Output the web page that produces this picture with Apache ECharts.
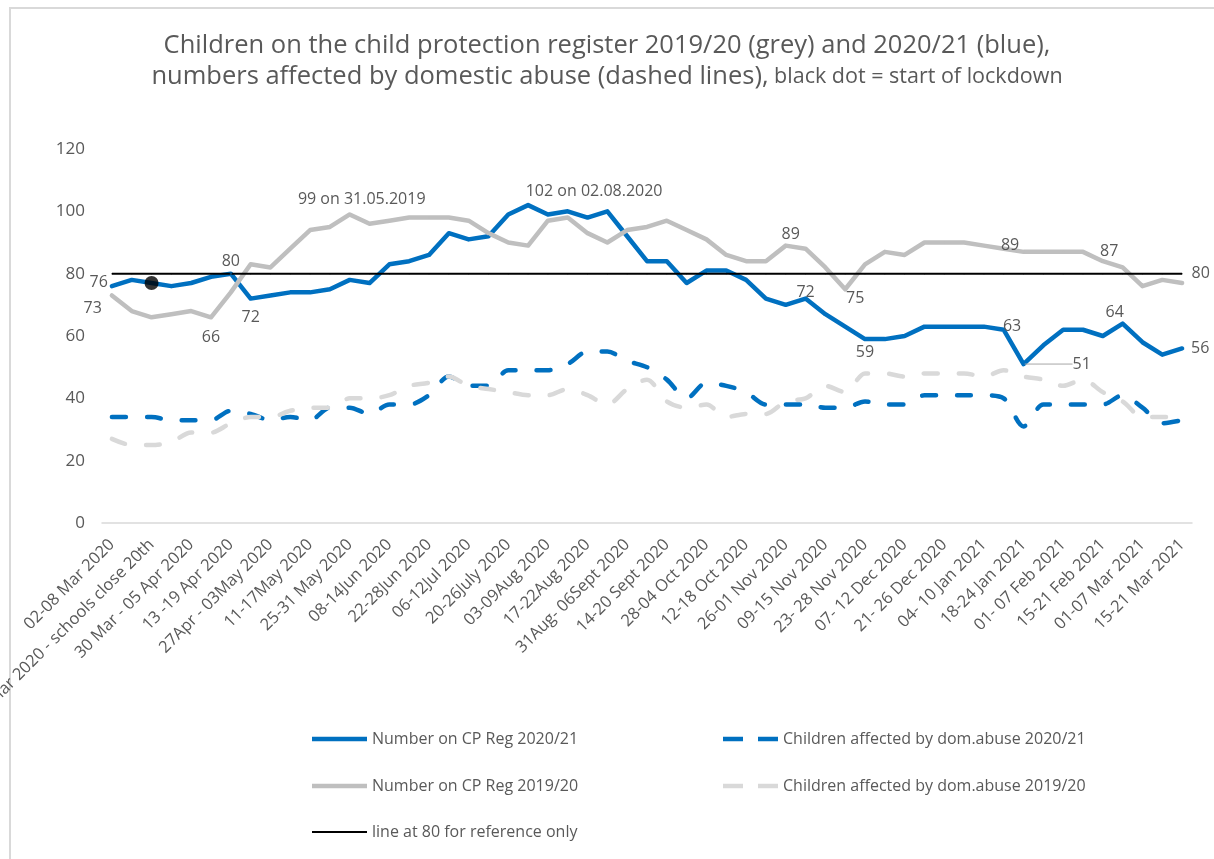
<!DOCTYPE html>
<html>
<head>
<meta charset="utf-8">
<script src="https://cdn.jsdelivr.net/npm/echarts@6/dist/echarts.min.js"></script>
<style>
html,body{margin:0;padding:0;background:#fff;}
#chart{width:1214px;height:859px;}
</style>
</head>
<body>
<div id="chart"></div>
<script>
const categories = [
  '02-08 Mar 2020','09-15 Mar 2020','16-22 Mar 2020 - schools close 20th','23-29 Mar 2020',
  '30 Mar - 05 Apr 2020','06-12 Apr 2020','13 -19 Apr 2020','20-26 Apr 2020',
  '27Apr - 03May 2020','04-10May 2020','11-17May 2020','18-24 May 2020',
  '25-31 May 2020','01-07Jun 2020','08-14Jun 2020','15-21Jun 2020',
  '22-28Jun 2020','29Jun-05Jul 2020','06-12Jul 2020','13-19Jul 2020',
  '20-26July 2020','27Jul-02Aug 2020','03-09Aug 2020','10-16Aug 2020',
  '17-22Aug 2020','24-30Aug 2020','31Aug- 06Sept 2020','07-13 Sept 2020',
  '14-20 Sept 2020','21-27 Sept 2020','28-04 Oct 2020','05-11 Oct 2020',
  '12-18 Oct 2020','19-25 Oct 2020','26-01 Nov 2020','02-08 Nov 2020',
  '09-15 Nov 2020','16-22 Nov 2020','23- 28 Nov 2020','30-06 Dec 2020',
  '07- 12 Dec 2020','14-20 Dec 2020','21- 26 Dec 2020','28-03 Jan 2021',
  '04- 10 Jan 2021','11-17 Jan 2021','18-24 Jan 2021','25-31 Jan 2021',
  '01- 07 Feb 2021','08-14 Feb 2021','15-21 Feb 2021','22-28 Feb 2021',
  '01-07 Mar 2021','08-14 Mar 2021','15-21 Mar 2021'
];

const cpReg2021 = [76,78,77,76,77,79,80,72,73,74,74,75,78,77,83,84,86,93,91,92,99,102,99,100,98,100,92,84,84,77,81,81,78,72,70,72,67,63,59,59,60,63,63,63,63,62,51,57,62,62,60,64,58,54,56];
const domAbuse2021 = [34,34,34,33,33,33,36,35,33,34,33,37,37,35,38,38,41,47,44,44,49,49,49,51,55,55,52,50,46,40,45,44,42,38,38,38,37,37,39,38,38,41,41,41,41,40,31,38,38,38,38,41,37,32,33];
const cpReg1920 = [73,68,66,67,68,66,74,83,82,88,94,95,99,96,97,98,98,98,97,93,90,89,97,98,93,90,94,95,97,94,91,86,84,84,89,88,82,75,83,87,86,90,90,90,89,88,87,87,87,87,84,82,76,78,77];
const domAbuse1920 = [27,25,25,26,29,29,32,34,34,36,37,37,40,40,41,44,45,47,44,43,42,41,41,43,41,38,43,46,39,37,38,34,35,35,39,40,44,42,48,48,47,48,48,48,47,49,47,46,44,46,42,39,34,34,34];
const referenceLine = [80,80,80,80,80,80,80,80,80,80,80,80,80,80,80,80,80,80,80,80,80,80,80,80,80,80,80,80,80,80,80,80,80,80,80,80,80,80,80,80,80,80,80,80,80,80,80,80,80,80,80,80,80,80,80];

const seriesNames = [
  'Number on CP Reg 2020/21',
  'Children affected by dom.abuse 2020/21',
  'Number on CP Reg 2019/20',
  'Children affected by dom.abuse 2019/20',
  'line at 80 for reference only'
];
const titleLine1 = 'Children on the child protection register 2019/20 (grey) and 2020/21 (blue),';
const titleLine2a = 'numbers affected by domestic abuse (dashed lines),';
const titleLine2b = ' black dot = start of lockdown';
const lockdownIndex = 2;
const blueAnnotations = {21: '102 on 02.08.2020'};
const greyAnnotations = {12: '99 on 31.05.2019'};
const blueLabelled = [0, 6, 7, 21, 35, 38, 44, 46, 51, 54];
const greyLabelled = [0, 5, 12, 34, 37, 44, 49];
const leaderIndex = 46;

const FONT = 'Open Sans';
const TXT = '#595959';

const blueLabelStyle = {
  0: {position: 'left', distance: 3},
  6: {position: 'top', distance: 3},
  7: {position: 'bottom', distance: 10},
  21: {position: 'top', distance: 5},
  35: {position: 'top', distance: -3},
  38: {position: 'bottom', distance: 4},
  44: {position: 'right', distance: 18},
  46: {position: 'right', distance: 4},
  51: {position: 'top', distance: 2},
  54: {position: 'right', distance: 8}
};
// label shifts for the blue series, applied through labelLayout
const blueLabelShift = {0: [0, -4], 21: [66, 0], 46: [44, 0], 51: [-8, 0]};
const greyLabelStyle = {
  0: {position: 'left', distance: 9, offset: [0, 13]},
  5: {position: 'bottom', distance: 11},
  12: {position: 'top', distance: 6, offset: [12, 0]},
  34: {position: 'top', distance: 2, offset: [5, 0]},
  37: {position: 'bottom', distance: 0, offset: [10, 0]},
  44: {position: 'right', distance: 16},
  49: {position: 'right', distance: 16}
};

function withLabels(values, idxList, styles, annotations) {
  return values.map(function (v, i) {
    if (idxList.indexOf(i) < 0) return v;
    const txt = annotations[i] || String(v);
    return {value: v, label: Object.assign({show: true, formatter: txt}, styles[i])};
  });
}

const blueData = withLabels(cpReg2021, blueLabelled, blueLabelStyle, blueAnnotations);
blueData[leaderIndex].labelLine = {show: true, lineStyle: {color: '#a6a6a6', width: 1}};
const greyData = withLabels(cpReg1920, greyLabelled, greyLabelStyle, greyAnnotations);
const refData = referenceLine.map(function (v, i) {
  if (i === referenceLine.length - 1) {
    return {value: v, label: {show: true, position: 'right', distance: 9, formatter: String(v)}};
  }
  return v;
});
const dotData = categories.map(function (c, i) { return i === lockdownIndex ? cpReg2021[i] : '-'; });

const baseLabel = {show: false, color: TXT, fontSize: 16, fontFamily: FONT};

const ICON_SOLID = 'path://M0,0H110V9H0Z';
const ICON_DASH = 'path://M0,0H40V9H0Z M70,0H110V9H70Z';
const ICON_THIN = 'path://M0,0H110V4H0Z';

const chart = echarts.init(document.getElementById('chart'), null, {renderer: 'canvas'});

function legendAt(name, icon, h, left, top) {
  return {
    data: [{name: name, icon: icon}], left: left, top: top, itemWidth: 55, itemHeight: h, itemGap: 8,
    textStyle: {color: TXT, fontSize: 16, fontFamily: FONT}, selectedMode: false
  };
}

chart.setOption({
  animation: false,
  backgroundColor: '#fff',
  graphic: [{
    type: 'rect', shape: {x: 10, y: 8, width: 1300, height: 1000},
    style: {fill: 'none', stroke: '#d9d9d9', lineWidth: 2}, silent: true, z: -10
  }],
  title: [
    {
      left: 'center', top: 28,
      text: titleLine1,
      textStyle: {fontSize: 25.5, color: TXT, fontFamily: FONT, fontWeight: 'normal'}
    },
    {
      left: 'center', top: 59,
      text: '{a|' + titleLine2a + '}{b|' + titleLine2b + '}',
      textStyle: {
        fontWeight: 'normal',
        rich: {
          a: {fontSize: 25.5, color: TXT, fontFamily: FONT, fontWeight: 'normal'},
          b: {fontSize: 21.5, color: TXT, fontFamily: FONT, fontWeight: 'normal'}
        }
      }
    }
  ],
  legend: [
    legendAt(seriesNames[0], ICON_SOLID, 4.5, 307, 726),
    legendAt(seriesNames[1], ICON_DASH, 4.5, 718, 726),
    legendAt(seriesNames[2], ICON_SOLID, 4.5, 307, 773),
    legendAt(seriesNames[3], ICON_DASH, 4.5, 718, 773),
    legendAt(seriesNames[4], ICON_THIN, 2, 307, 819)
  ],
  grid: {left: 102, right: 22, top: 149, bottom: 336, containLabel: false, outerBoundsMode: 'none'},
  xAxis: {
    type: 'category', data: categories, boundaryGap: true,
    axisLine: {show: true, lineStyle: {color: '#d9d9d9', width: 1.5}},
    axisTick: {show: false},
    axisLabel: {interval: 1, rotate: 45, color: TXT, fontSize: 16.5, fontFamily: FONT, margin: 19}
  },
  yAxis: {
    type: 'value', min: 0, max: 120, interval: 20,
    splitLine: {show: false}, axisLine: {show: false}, axisTick: {show: false},
    axisLabel: {color: TXT, fontSize: 17, fontFamily: FONT, margin: 17}
  },
  series: [
    {
      name: seriesNames[0], type: 'line', data: blueData, symbol: 'circle', symbolSize: 2, showSymbol: true,
      lineStyle: {color: '#0070c0', width: 4.5, join: 'round', cap: 'round'},
      itemStyle: {color: '#0070c0'}, label: baseLabel, z: 3,
      labelLayout: function (p) {
        const s = blueLabelShift[p.dataIndex];
        return s ? {dx: s[0], dy: s[1]} : {};
      }
    },
    {
      name: seriesNames[1], type: 'line', data: domAbuse2021, symbol: 'none', smooth: 0.3,
      lineStyle: {color: '#0070c0', width: 4.5, type: [14, 21], cap: 'round'},
      itemStyle: {color: '#0070c0'}, z: 3
    },
    {
      name: seriesNames[2], type: 'line', data: greyData, symbol: 'circle', symbolSize: 2, showSymbol: true,
      lineStyle: {color: '#bfbfbf', width: 4.5, join: 'round', cap: 'round'},
      itemStyle: {color: '#bfbfbf'}, label: baseLabel, z: 3
    },
    {
      name: seriesNames[3], type: 'line', data: domAbuse1920, symbol: 'none', smooth: 0.3,
      lineStyle: {color: '#d9d9d9', width: 4.5, type: [14, 21], cap: 'round'},
      itemStyle: {color: '#d9d9d9'}, z: 3
    },
    {
      name: seriesNames[4], type: 'line', data: refData, symbol: 'circle', symbolSize: 1, showSymbol: true,
      lineStyle: {color: '#000000', width: 2},
      itemStyle: {color: '#000000'}, label: baseLabel, z: 3
    },
    {
      name: 'lockdown', type: 'scatter', data: dotData, symbol: 'circle', symbolSize: 14,
      itemStyle: {color: '#000000'}, z: 5
    }
  ]
});
</script>
</body>
</html>
